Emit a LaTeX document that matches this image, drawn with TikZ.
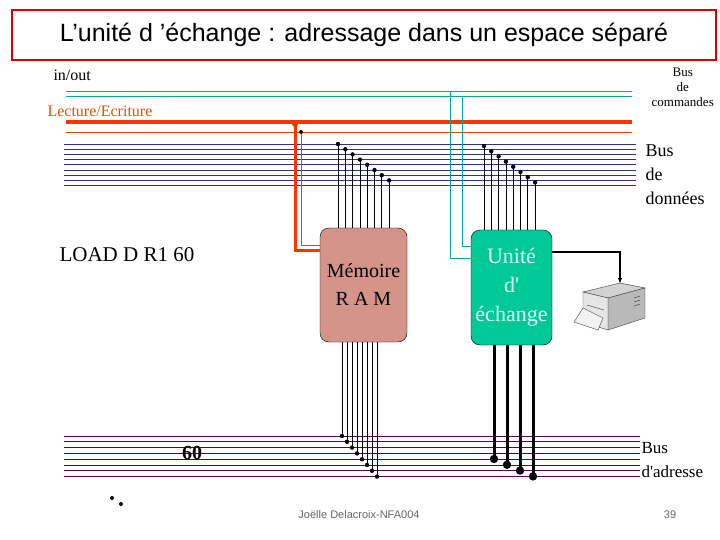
\documentclass[tikz,border=0pt]{standalone}
\usepackage{fontspec}
\usetikzlibrary{arrows.meta}
\setmainfont{Liberation Serif}
\setsansfont{Liberation Sans}
\definecolor{memc}{HTML}{D4948A}
\definecolor{uec}{HTML}{00C896}
\definecolor{uetext}{HTML}{DDFFFF}
\begin{document}
\begin{tikzpicture}[x=1pt,y=-1pt,
  dbus/.style={draw=blue!40!black!80,line width=0.9pt},
  abus/.style={draw=violet!70!black,line width=0.9pt},
  teal/.style={draw=teal!70!cyan,line width=0.7pt},
  wire/.style={draw=black,line width=0.8pt}]
\useasboundingbox (0,0) rectangle (720,540);
\fill[white] (0,0) rectangle (720,540);
\node[draw=red!85!black,line width=2.5pt,minimum width=704pt,minimum height=50pt,inner sep=0pt,font=\sffamily\fontsize{25}{28}\selectfont] (title) at (364,35) {L’unité d ’échange : adressage dans un espace séparé};
% command bus
\node[font=\fontsize{16}{18}\selectfont,anchor=west] (io) at (50,75) {in/out};
\node[font=\fontsize{16}{18}\selectfont,text=orange!70!red!90!black,anchor=west] (le) at (44,111) {Lecture/Ecriture};
\node[font=\fontsize{13}{15}\selectfont,align=center,anchor=east,inner sep=0pt] (bc) at (714,87) {Bus\\de\\commandes};
\draw[teal] (66,91) -- (632,91);
\draw[teal] (66,96) -- (632,96);
\draw[draw=orange!40!red,line width=4pt] (66,122) -- (632,122);
\draw[draw=orange!60!red!90!black,line width=0.8pt] (66,132) -- (632,132);
% data bus
\foreach \i in {0,...,8} \draw[dbus] (64,{144+\i*5.2}) -- (636,{144+\i*5.2});
\node[font=\fontsize{18}{24}\selectfont,align=left,anchor=west] (bd) at (642,175) {Bus\\de\\données};
% address bus
\foreach \i in {0,...,7} \draw[abus] (64,{436+\i*5.8}) -- (640,{436+\i*5.8});
\node[font=\fontsize{20}{22}\selectfont\bfseries,inner sep=1pt] (sixty) at (192,453) {60};
\node[font=\fontsize{17}{24}\selectfont,align=left,anchor=west] (ba) at (638,460) {Bus\\d\textquotesingle adresse};
% nodes
\node[font=\fontsize{21}{24}\selectfont,anchor=west] (load) at (56,255) {LOAD D R1 60};
\node[draw=black,fill=memc,rounded corners=9pt,minimum width=87pt,minimum height=114pt,inner sep=0pt,align=center,font=\fontsize{20}{28}\selectfont] (mem) at (363.5,285) {Mémoire\\R A M};
\node[draw=black,fill=uec,rounded corners=9pt,minimum width=81pt,minimum height=115pt,inner sep=0pt,align=center,text=uetext,font=\fontsize{22}{29}\selectfont] (ue) at (511.5,287.5) {Unité\\d\textquotesingle\\échange};
% orange to memory
\draw[draw=orange!40!red,line width=3pt] (295,122) -- (295,250) -- (mem.west |- 0,250);
\fill[orange!40!red] (295,124) circle (3pt);
\draw[draw=orange!60!red!90!black,line width=0.8pt] (301,134) -- (301,245) -- (mem.west |- 0,245);
\fill (301,132) circle (2pt);
% teal to unit
\draw[teal] (450,91) -- (450,258) -- (ue.west |- 0,258);
\draw[teal] (462,96) -- (462,246) -- (ue.west |- 0,246);
% memory data wires
\foreach \i in {0,...,7} {
  \pgfmathsetmacro\xx{338+\i*7.3}
  \draw[wire] (\xx,{144+\i*5.2}) -- (\xx,228);
  \fill (\xx,{144+\i*5.2}) circle (2.2pt);
}
\foreach \i in {0,...,7} {
  \pgfmathsetmacro\xx{484+\i*7.3}
  \draw[wire] (\xx,{146+\i*5.2}) -- (\xx,230);
  \fill (\xx,{146+\i*5.2}) circle (2.2pt);
}
% memory address wires
\foreach \i in {0,...,7} {
  \pgfmathsetmacro\xx{342+\i*5}
  \draw[wire] (\xx,342) -- (\xx,{436+\i*5.8});
  \fill (\xx,{436+\i*5.8}) circle (2.2pt);
}
% unit address wires
\foreach \i in {0,...,3} {
  \pgfmathsetmacro\xx{494+\i*13}
  \draw[draw=black,line width=3pt] (\xx,345) -- (\xx,{459+\i*5.8});
  \fill (\xx,{459+\i*5.8}) circle (4.2pt);
}
% printer
\coordinate (pr) at (620,284);
\draw[draw=black,line width=2pt,-{Latex[length=6pt]}] (ue.east |- 0,252) -- (620,252) -- (pr);
\filldraw[draw=gray!50!black,fill=gray!35] (583,292) -- (620,283) -- (645,288) -- (608,298) -- cycle;
\filldraw[draw=gray!50!black,fill=gray!55] (608,298) -- (645,288) -- (645,318) -- (608,330) -- cycle;
\filldraw[draw=gray!50!black,fill=gray!20] (583,292) -- (608,298) -- (608,330) -- (583,322) -- cycle;
\filldraw[draw=gray!50!black,fill=gray!10] (583,308) -- (574,322) -- (598,330) -- (603,318) -- cycle;
\draw[gray!50!black] (587,305) -- (604,310);
\foreach \k in {0,1,2} \draw[gray!40!black] (634,{298+\k*4}) -- (640,{296+\k*4});
% dots
\fill (112,498) circle (2pt);
\fill (121,504) circle (2pt);
% footer
\node[font=\sffamily\fontsize{11}{13}\selectfont,text=gray!80!black] (foot) at (359,515) {Joëlle Delacroix-NFA004};
\node[font=\sffamily\fontsize{11}{13}\selectfont,text=gray!80!black] (num) at (670,515) {39};
\end{tikzpicture}
\end{document}
